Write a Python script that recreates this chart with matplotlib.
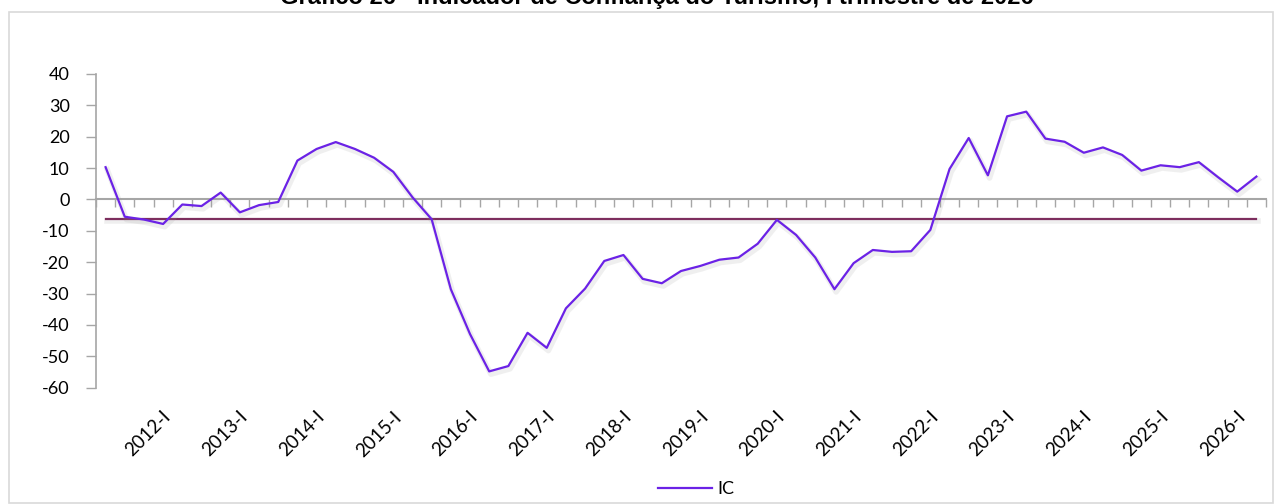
import matplotlib
matplotlib.use("Agg")
import matplotlib.pyplot as plt
import matplotlib.patheffects as pe
from matplotlib.patches import Rectangle
from matplotlib.lines import Line2D
import numpy as np

plt.rcParams["axes.unicode_minus"] = False

# ---- data ----
ic_values = [10.3, -5.5, -6.4, -7.8, -1.6, -2.1, 2.2, -4.1, -1.8, -0.8,
             12.4, 16.1, 18.3, 16.1, 13.3, 8.8, 0.7, -6.3, -28.6, -42.9,
             -54.8, -53.1, -42.5, -47.3, -34.7, -28.4, -19.6, -17.7, -25.3, -26.7,
             -22.8, -21.2, -19.2, -18.5, -14.1, -6.5, -11.3, -18.5, -28.6, -20.3,
             -16.1, -16.7, -16.5, -9.7, 9.7, 19.6, 7.7, 26.5, 28.0, 19.4,
             18.4, 14.9, 16.6, 14.2, 9.2, 10.9, 10.3, 11.9, 7.1, 2.5, 7.3]
reference_level = -6.1
year_labels = ["2012-I", "2013-I", "2014-I", "2015-I", "2016-I", "2017-I", "2018-I",
               "2019-I", "2020-I", "2021-I", "2022-I", "2023-I", "2024-I", "2025-I",
               "2026-I"]
first_label_index = 3
label_step = 4
series_name = "IC"
title = "Gráfico 26 - Indicador de Confiança do Turismo, I trimestre de 2026"

W, H = 1282, 504
fig = plt.figure(figsize=(W / 100, H / 100), dpi=100)
fig.patch.set_facecolor("white")

left, right = 96 / W, 1266 / W
bottom, top = (H - 387.7) / H, (H - 74) / H
ax = fig.add_axes([left, bottom, right - left, top - bottom])

n = len(ic_values)
x = np.arange(n)
shadow = [pe.SimpleLineShadow(offset=(1.2, -2.0), shadow_color="#999999", alpha=0.15, linewidth=4),
          pe.Normal()]

ax.plot([x[0], x[-1]], [reference_level, reference_level], color="#7D2E5E", lw=1.6,
        path_effects=shadow, zorder=3)
ax.plot(x, ic_values, color="#6B22E6", lw=1.6, path_effects=shadow, zorder=4)

ax.set_xlim(-0.5, n - 0.5)
ax.set_ylim(-60, 40)
ax.set_yticks(np.arange(-60, 41, 10))

label_font = "Lato"
ax.tick_params(axis="y", length=7, width=1, color="#A6A6A6", pad=12,
               labelsize=13, labelfontfamily=label_font)

for s in ["top", "right"]:
    ax.spines[s].set_visible(False)
ax.spines["left"].set_color("#A6A6A6")
ax.spines["left"].set_linewidth(1.2)
ax.spines["bottom"].set_position(("data", 0))
ax.spines["bottom"].set_color("#A6A6A6")
ax.spines["bottom"].set_linewidth(1.5)

ax.set_xticks(np.arange(-0.5, n, 1.0))
ax.tick_params(axis="x", length=6, width=1, color="#A6A6A6", labelbottom=False)

# category labels at bottom
label_pos = x[first_label_index::label_step]
for xp, lab in zip(label_pos, year_labels):
    ax.text(xp - 0.05, -0.065, lab, transform=ax.get_xaxis_transform(),
            rotation=45, ha="right", va="top", rotation_mode="anchor",
            fontsize=13.5, family=label_font, color="black")

# title (partially cut at top)
fig.text(0.5125, 1 - 4 / H, title, ha="center", va="baseline",
         fontsize=17, fontweight="bold", family="Liberation Sans")

# chart border
fig.add_artist(Rectangle((9 / W, 1 / H), (1273 - 9) / W, (H - 12 - 1) / H,
                         transform=fig.transFigure, fill=False,
                         edgecolor="#D9D9D9", lw=1.2))

# legend
handle = Line2D([], [], color="#6B22E6", lw=1.6)
fig.legend([handle], [series_name], loc="center", bbox_to_anchor=(696 / W, 1 - 489 / H),
           frameon=False, handlelength=3.0, handletextpad=0.3,
           prop={"family": label_font, "size": 13})

fig.savefig("out.png", dpi=100)
